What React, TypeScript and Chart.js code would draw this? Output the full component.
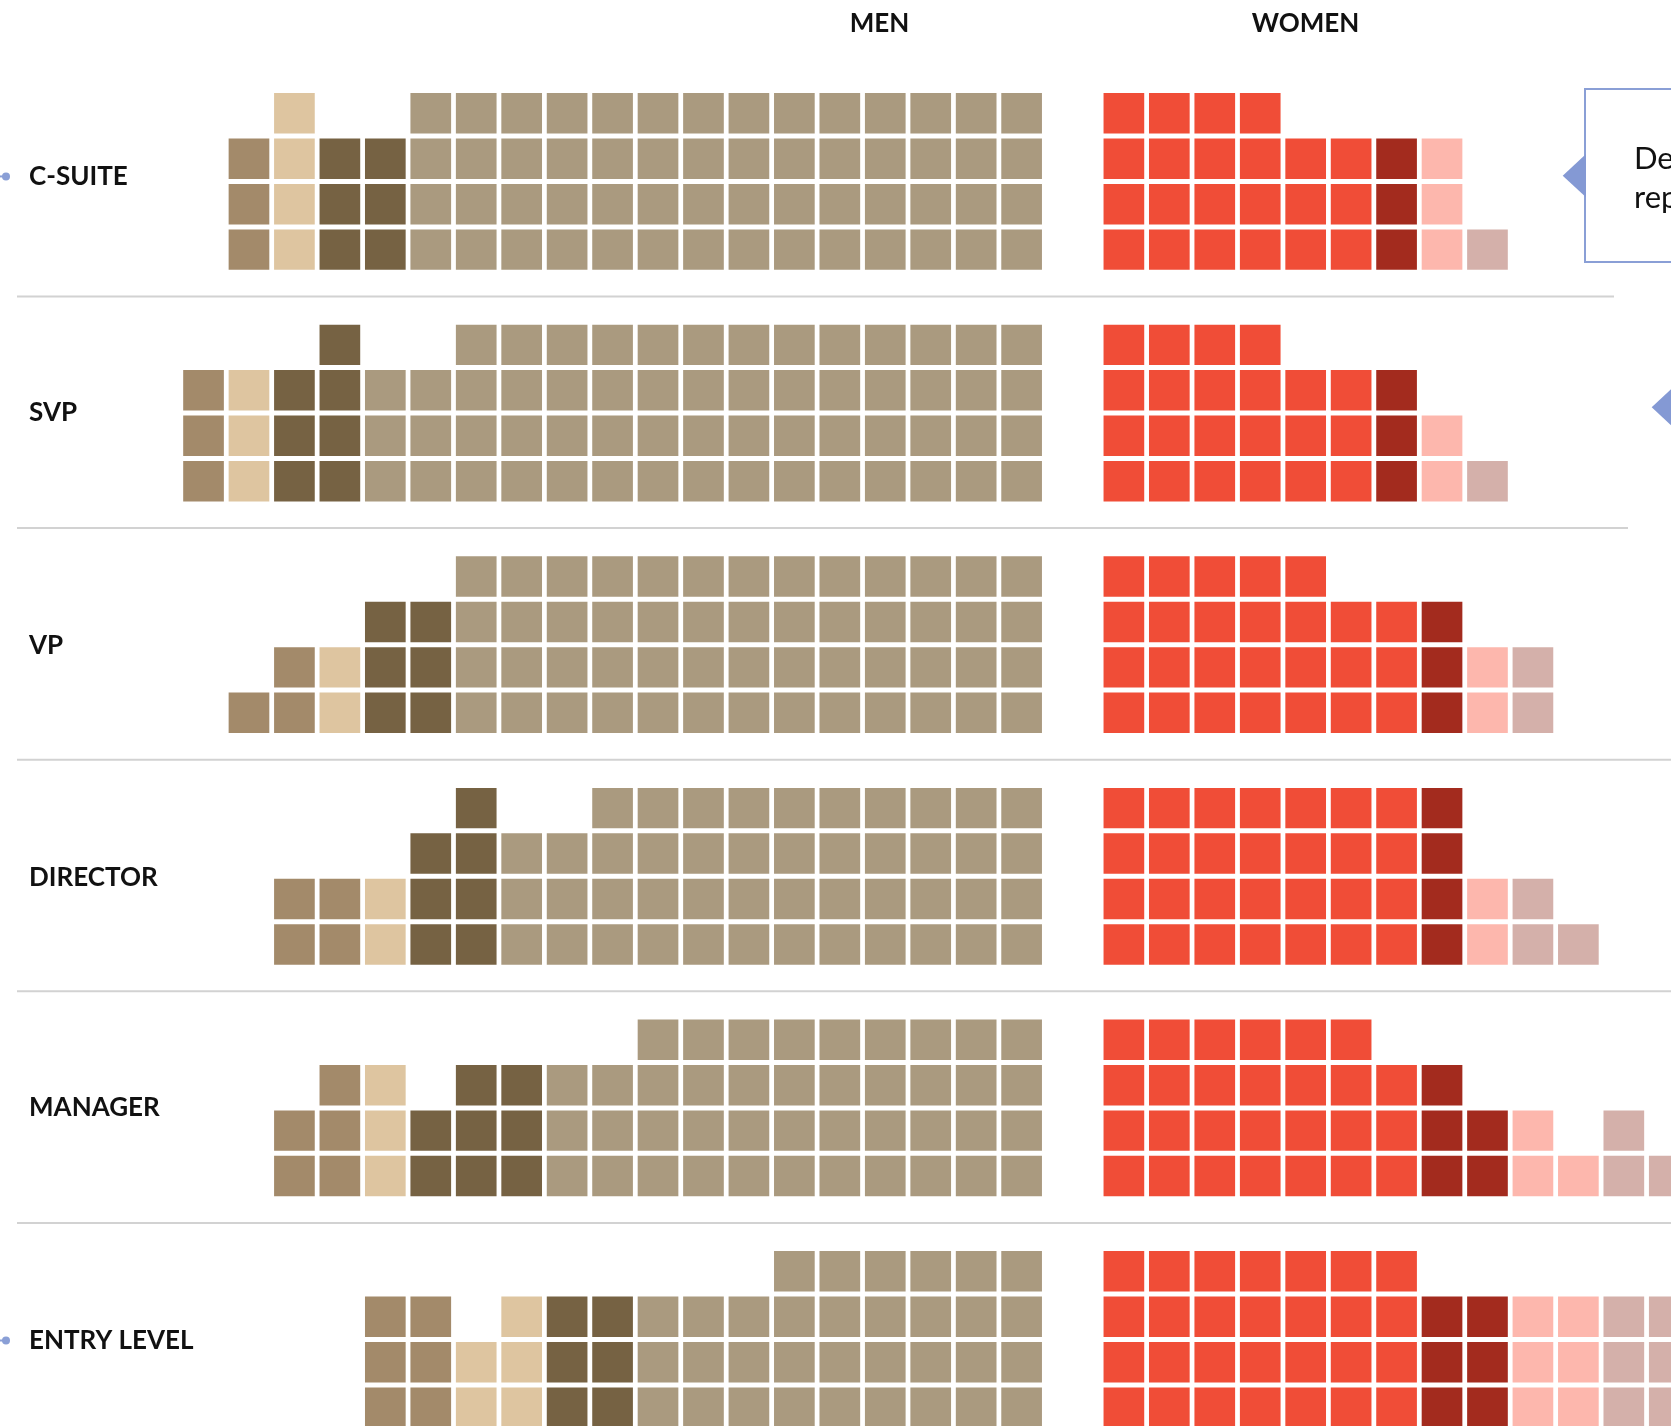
import { useEffect, useRef } from "react";
import { Chart, registerables } from "chart.js";

Chart.register(...registerables);

// ---------- data ----------
const levels = ["C-SUITE", "SVP", "VP", "DIRECTOR", "MANAGER", "ENTRY LEVEL"];
const headers = ["MEN", "WOMEN"];

// men, listed from the centre outward
const menGroupACounts = [56, 58, 52, 46, 42, 33];
const menGroupAColumns = [14, 15, 13, 12, 11, 9];
const menGroupBCounts = [6, 7, 6, 7, 8, 6];
const menGroupBColumns = [2, 2, 2, 2, 3, 2];
const menGroupCCounts = [4, 3, 2, 2, 3, 5];
const menGroupCColumns = [1, 1, 1, 1, 1, 2];
const menGroupDCounts = [3, 3, 3, 4, 5, 6];
const menGroupDColumns = [1, 1, 2, 2, 2, 2];

// women, listed from the centre outward
const womenGroupACounts = [22, 22, 26, 28, 27, 28];
const womenGroupAColumns = [6, 6, 7, 7, 7, 7];
const womenGroupBCounts = [3, 3, 3, 4, 5, 6];
const womenGroupBColumns = [1, 1, 1, 1, 2, 2];
const womenGroupCCounts = [3, 2, 2, 2, 3, 6];
const womenGroupCColumns = [1, 1, 1, 1, 2, 2];
const womenGroupDCounts = [1, 1, 2, 3, 3, 6];
const womenGroupDColumns = [1, 1, 1, 2, 2, 2];

const calloutLines = ["De", "rep"];

// ---------- layout / style ----------
const W = 1671;
const H = 1426;
const X_MIN = -22.478;
const X_MAX = 14.288;
const Y_MIN = -25.883;
const Y_MAX = 5.492;
const WOMEN_START = 2.25;
const LEVEL_STEP = 5.096;
const ROWS = 4;
const CELL_H = 0.89;
const BAR_PCT = 0.895;

const menBlocks = [
  { label: "Men A", counts: menGroupACounts, cols: menGroupAColumns, color: "#aa9a7f" },
  { label: "Men B", counts: menGroupBCounts, cols: menGroupBColumns, color: "#766243" },
  { label: "Men C", counts: menGroupCCounts, cols: menGroupCColumns, color: "#dec5a0" },
  { label: "Men D", counts: menGroupDCounts, cols: menGroupDColumns, color: "#a38a6a" },
];
const womenBlocks = [
  { label: "Women A", counts: womenGroupACounts, cols: womenGroupAColumns, color: "#f04d37" },
  { label: "Women B", counts: womenGroupBCounts, cols: womenGroupBColumns, color: "#a32b1e" },
  { label: "Women C", counts: womenGroupCCounts, cols: womenGroupCColumns, color: "#fdb7ad" },
  { label: "Women D", counts: womenGroupDCounts, cols: womenGroupDColumns, color: "#d4b0aa" },
];

function buildDatasets() {
  const out: any[] = [];
  const sides = [
    { blocks: menBlocks, toX: (c: number) => -c },
    { blocks: womenBlocks, toX: (c: number) => WOMEN_START + c },
  ];
  for (const side of sides) {
    const offsets = levels.map(() => 0);
    for (const b of side.blocks) {
      const data: any[] = [];
      levels.forEach((_, L) => {
        const n = b.counts[L];
        const w = b.cols[L];
        for (let k = 0; k < n; k++) {
          const p = k % w;
          const r = Math.floor(k / w);
          const y = -L * LEVEL_STEP + r;
          data.push({ x: side.toX(offsets[L] + p), y: [y - CELL_H / 2, y + CELL_H / 2] });
        }
        offsets[L] += w;
      });
      out.push({
        type: "bar",
        label: b.label,
        data,
        backgroundColor: b.color,
        borderWidth: 0,
        grouped: false,
        barPercentage: BAR_PCT,
        categoryPercentage: 1,
      });
    }
  }
  return out;
}

const SEP_END = [1614, 1628, 1671, 1671, 1671];
const LABEL_DY = [-5, 0, 1, 1, 0, 1];
const BLUE = "#8a9fd6";

const decorPlugin = {
  id: "decor",
  afterDatasetsDraw(chart: any) {
    const ctx: CanvasRenderingContext2D = chart.ctx;
    const ys = chart.scales.y;
    ctx.save();
    // separators
    ctx.strokeStyle = "#d2d2d2";
    ctx.lineWidth = 2;
    for (let L = 0; L < levels.length - 1; L++) {
      const py = ys.getPixelForValue(-L * LEVEL_STEP - 1.03);
      ctx.beginPath();
      ctx.moveTo(17, py);
      ctx.lineTo(SEP_END[L], py);
      ctx.stroke();
    }
    // level labels
    ctx.fillStyle = "#111";
    ctx.font = "bold 26px Lato";
    ctx.textBaseline = "middle";
    ctx.textAlign = "left";
    levels.forEach((name, L) => {
      const py = ys.getPixelForValue(-L * LEVEL_STEP + (ROWS - 1) / 2) + LABEL_DY[L];
      ctx.fillText(name, 29, py);
      if (L === 0 || L === levels.length - 1) {
        ctx.strokeStyle = BLUE;
        ctx.fillStyle = BLUE;
        ctx.lineWidth = 2;
        ctx.beginPath();
        ctx.moveTo(0, py);
        ctx.lineTo(6, py);
        ctx.stroke();
        ctx.beginPath();
        ctx.arc(6, py, 4, 0, Math.PI * 2);
        ctx.fill();
        ctx.fillStyle = "#111";
      }
    });
    // headers
    ctx.textAlign = "center";
    ctx.font = "bold 26px Lato";
    ctx.fillText(headers[0], 879.5, 24);
    ctx.fillText(headers[1], 1305.5, 24);
    // callout box
    ctx.fillStyle = "#fff";
    ctx.fillRect(1585, 89, 120, 173);
    ctx.strokeStyle = BLUE;
    ctx.lineWidth = 2;
    ctx.strokeRect(1585, 89, 120, 173);
    ctx.fillStyle = "#8499d4";
    ctx.beginPath();
    ctx.moveTo(1562.7, 175.7);
    ctx.lineTo(1586, 154);
    ctx.lineTo(1586, 197.3);
    ctx.closePath();
    ctx.fill();
    ctx.beginPath();
    ctx.moveTo(1651.7, 407.3);
    ctx.lineTo(1675, 385.6);
    ctx.lineTo(1675, 429);
    ctx.closePath();
    ctx.fill();
    ctx.fillStyle = "#111";
    ctx.textAlign = "left";
    ctx.textBaseline = "alphabetic";
    ctx.font = "31px Lato";
    ctx.fillText(calloutLines[0], 1634, 169);
    ctx.fillText(calloutLines[1], 1634, 208);
    ctx.restore();
  },
};

export default function App() {
  const ref = useRef<HTMLCanvasElement | null>(null);
  useEffect(() => {
    if (!ref.current) return;
    const chart = new Chart(ref.current, {
      type: "bar",
      data: { datasets: buildDatasets() },
      options: {
        animation: false,
        responsive: false,
        maintainAspectRatio: false,
        layout: { padding: 0 },
        plugins: { legend: { display: false }, tooltip: { enabled: false } },
        scales: {
          x: {
            type: "linear",
            min: X_MIN,
            max: X_MAX,
            offset: false,
            display: false,
            ticks: { stepSize: 50 },
          },
          y: {
            type: "linear",
            min: Y_MIN,
            max: Y_MAX,
            display: false,
            beginAtZero: false,
          },
        },
      },
      plugins: [decorPlugin],
    } as any);
    return () => chart.destroy();
  }, []);
  return (
    <div style={{ position: "absolute", left: 0, top: 0, width: W, height: H, overflow: "hidden", background: "#fff" }}>
      <canvas ref={ref} width={W} height={H} style={{ display: "block" }} />
    </div>
  );
}
